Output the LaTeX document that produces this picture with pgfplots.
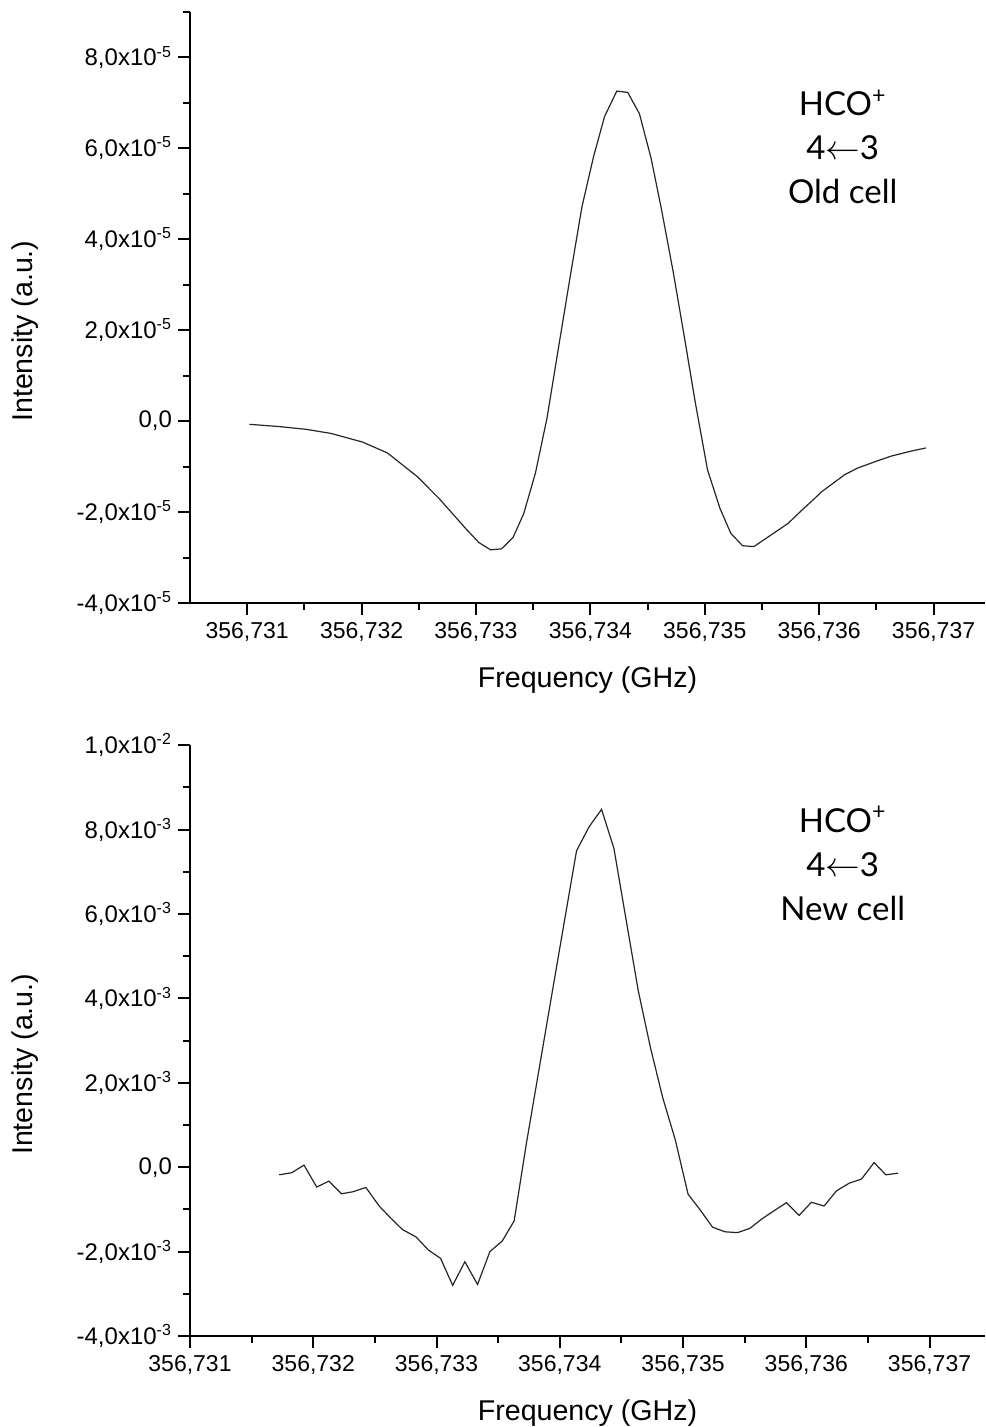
\documentclass[border=0pt]{standalone}
\usepackage{fontspec}
\setmainfont{Liberation Sans}
\newfontfamily\gill{Lato}
\usepackage{pgfplots}
\pgfplotsset{compat=1.18}

% x in MHz above 356.730 GHz, y in units of 1e-5 (top) and 1e-3 (bottom)
\pgfplotstableread{
x y
1.020 -0.07
1.282 -0.12
1.514 -0.18
1.732 -0.27
2.008 -0.46
2.226 -0.70
2.487 -1.22
2.677 -1.70
2.909 -2.36
3.025 -2.67
3.127 -2.83
3.223 -2.81
3.324 -2.56
3.418 -2.03
3.520 -1.14
3.621 0.07
3.721 1.61
3.821 3.14
3.926 4.71
4.028 5.82
4.124 6.70
4.231 7.26
4.327 7.23
4.429 6.76
4.531 5.78
4.623 4.64
4.725 3.27
4.821 1.86
4.915 0.44
5.024 -1.07
5.133 -1.92
5.228 -2.47
5.330 -2.74
5.429 -2.76
5.582 -2.50
5.728 -2.25
5.844 -1.97
5.961 -1.70
6.018 -1.56
6.222 -1.18
6.338 -1.03
6.513 -0.87
6.629 -0.77
6.803 -0.66
6.934 -0.59
}\oldcell

\pgfplotstableread{
x y
1.724 -0.18
1.825 -0.13
1.925 0.05
2.028 -0.47
2.127 -0.33
2.230 -0.63
2.324 -0.58
2.427 -0.48
2.535 -0.92
2.630 -1.21
2.725 -1.48
2.833 -1.65
2.933 -1.96
3.033 -2.16
3.131 -2.80
3.230 -2.24
3.333 -2.78
3.433 -2.00
3.533 -1.75
3.630 -1.27
3.730 0.58
3.830 2.29
3.930 4.00
4.031 5.72
4.136 7.50
4.238 8.07
4.339 8.48
4.439 7.56
4.536 5.90
4.637 4.18
4.736 2.83
4.836 1.64
4.937 0.65
5.041 -0.64
5.136 -1.00
5.239 -1.42
5.339 -1.53
5.442 -1.55
5.542 -1.45
5.637 -1.23
5.739 -1.03
5.839 -0.84
5.942 -1.14
6.042 -0.83
6.144 -0.92
6.245 -0.56
6.347 -0.38
6.448 -0.28
6.550 0.11
6.645 -0.18
6.745 -0.14
}\newcell

\newcommand{\sci}[2]{#1{,}0x10\textsuperscript{#2}}

\pgfplotsset{
  origin/.style={
    scale only axis, width=397.5pt,
    axis lines=left, axis line style={-, line width=1pt},
    every tick/.append style={black, line width=1pt},
    tick align=outside, major tick length=6pt, minor tick length=3.5pt,
    scaled ticks=false,
    tick label style={font=\fontsize{11.5}{13}\selectfont},
    yticklabel style={font=\fontsize{12}{13}\selectfont, xshift=0.5pt},
    label style={font=\fontsize{14.3}{16}\selectfont},
    xlabel={Frequency (GHz)}, ylabel={Intensity (a.u.)},
    xlabel style={at={(axis description cs:0.5,0)}, anchor=center, yshift=-38.5pt},
    ylabel style={at={(axis description cs:-0.2075,0.46)}, anchor=center},
    xtick={1,...,7},
    xticklabels={{356{,}731},{356{,}732},{356{,}733},{356{,}734},{356{,}735},{356{,}736},{356{,}737}},
    minor xtick={1.5,2.5,...,6.5},
    xmax=7.45,
  },
  trace/.style={black!85, line width=0.6pt, mark=none},
}
\tikzset{note/.style={align=center, font=\gill\fontsize{16.5}{22}\selectfont}}

\begin{document}
\begin{tikzpicture}
\path[use as bounding box] (0pt,0pt) rectangle (492.5pt,713.5pt);

\begin{axis}[origin, at={(95pt,412pt)}, anchor=south west, height=295.5pt,
  xmin=0.5, ymin=-4, ymax=9,
  ytick={-4,-2,...,8}, minor ytick={-3,-1,...,9},
  yticklabels={{\sci{-4}{-5}},{\sci{-2}{-5}},{0{,}0},{\sci{2}{-5}},{\sci{4}{-5}},{\sci{6}{-5}},{\sci{8}{-5}}},
]
\addplot[trace] table[x=x,y=y] {\oldcell};
\node[note] at (axis description cs:0.821,0.772) {HCO\textsuperscript{+}\\4$\leftarrow$3\\Old cell};
\end{axis}

\begin{axis}[origin, at={(95pt,45.5pt)}, anchor=south west, height=295.35pt,
  xmin=1, ymin=-4, ymax=10,
  ytick={-4,-2,...,10}, minor ytick={-3,-1,...,9},
  yticklabels={{\sci{-4}{-3}},{\sci{-2}{-3}},{0{,}0},{\sci{2}{-3}},{\sci{4}{-3}},{\sci{6}{-3}},{\sci{8}{-3}},{\sci{1}{-2}}},
]
\addplot[trace] table[x=x,y=y] {\newcell};
\node[note] at (axis description cs:0.821,0.80) {HCO\textsuperscript{+}\\4$\leftarrow$3\\New cell};
\end{axis}
\end{tikzpicture}
\end{document}
